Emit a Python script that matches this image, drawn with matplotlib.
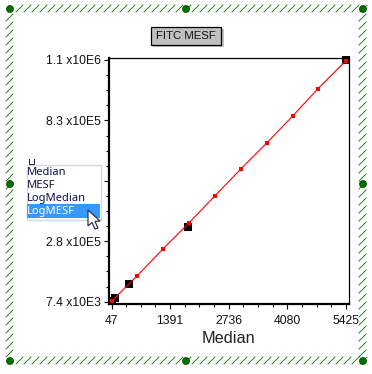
#!/usr/bin/env python
"""FITC MESF calibration plot: LogMESF vs Median, with its selection frame and menu."""

import matplotlib
matplotlib.use('Agg')
import matplotlib.pyplot as plt
from matplotlib.patches import Rectangle, Polygon, Circle

plt.rcParams['font.family'] = ['Liberation Sans', 'DejaVu Sans']

W, H = 372, 374

# values
fit_median = [47, 631, 1226, 1822, 2417, 3013, 3608, 4204, 4776, 5425]
fit_mesf = [10000, 123600, 245700, 363300, 485400, 607500, 725000, 847100, 969200, 1097200]
bead_median = [47, 127, 448, 1799, 5425]
bead_mesf = [12000, 24100, 87400, 345200, 1100000]

x_ticks = [47, 1391, 2736, 4080, 5425]
x_ticklabels = ['47', '1391', '2736', '4080', '5425']
y_ticks = [7400, 280500, 553700, 826900, 1100000]
y_ticklabels = ['7.4 x10E3', '2.8 x10E5', '', '8.3 x10E5', '1.1 x10E6']
menu_items = ['Median', 'MESF', 'LogMedian', 'LogMESF']

GREEN = '#007000'

fig = plt.figure(figsize=(W / 100, H / 100), dpi=100)

# full-figure layer in pixel coordinates for the window furniture
bg = fig.add_axes([0, 0, 1, 1], zorder=0)
bg.set_xlim(0, W)
bg.set_ylim(H, 0)
bg.axis('off')

# selection frame, made of short slashes
for x in range(14, 360, 8):
    bg.plot([x + 2, x + 9], [12, 5], color=GREEN, lw=0.6)
    bg.plot([x + 2, x + 9], [364, 357], color=GREEN, lw=0.6)
for y in range(14, 358, 8):
    bg.plot([6, 13], [y + 7, y], color=GREEN, lw=0.6)
    bg.plot([359, 366], [y + 7, y], color=GREEN, lw=0.6)
for hx in (10, 186, 363):
    for hy in (9, 184, 361):
        if hx == 186 and hy == 184:
            continue
        bg.add_patch(Circle((hx, hy), 3.5, fc=GREEN, ec='#004000', lw=0.5, zorder=3))

# title button
bg.add_patch(Rectangle((153, 29), 71, 18, fc='#a8a8a8', ec='none', alpha=0.7))
bg.add_patch(Rectangle((151, 26.5), 70, 18, fc='#c0c0c0', ec='black', lw=0.9))
bg.text(186, 35.5, 'FITC MESF', ha='center', va='center', fontsize=8.2, color='#111111')

# plot
ax = fig.add_axes([108.5 / W, 1 - 303.5 / H, (349.3 - 108.5) / W, (303.5 - 57.5) / H], zorder=1)
x_per_px = (5425 - 47) / (346 - 111.5)
y_per_px = (1100000 - 7400) / (301.7 - 60)
ax.set_xlim(47 - 3 * x_per_px, 5425 + 3.3 * x_per_px)
ax.set_ylim(7400 - 1.8 * y_per_px, 1100000 + 2.5 * y_per_px)

ax.plot(bead_median, bead_mesf, ls='none', marker='s', ms=6, color='black', mew=0,
        clip_on=False, zorder=2)
ax.plot(fit_median, fit_mesf, color='#ff0000', lw=0.8, marker='s', ms=3.4, mew=0,
        clip_on=False, zorder=3)

ax.set_xticks(x_ticks)
ax.set_xticklabels(x_ticklabels)
ax.set_yticks(y_ticks)
ax.set_yticklabels(y_ticklabels)
x_step = (x_ticks[1] - x_ticks[0]) / 4
y_step = (y_ticks[1] - y_ticks[0]) / 4
ax.set_xticks([47 + i * x_step for i in range(1, 16) if i % 4], minor=True)
ax.set_yticks([7400 + i * y_step for i in range(1, 16) if i % 4], minor=True)
ax.tick_params(which='major', length=3.6, width=0.8, labelsize=8.7, colors='#111111')
ax.tick_params(axis='y', which='major', pad=2)
ax.tick_params(axis='x', which='major', pad=4.5)
ax.tick_params(which='minor', length=2, width=0.8)
ax.set_xlabel('Median', fontsize=11.7, labelpad=3, color='#222222')

ax.spines['left'].set_linewidth(1.6)
ax.spines['bottom'].set_linewidth(1.6)
ax.spines['top'].set_linewidth(0.9)
ax.spines['right'].set_linewidth(0.9)

# dropdown menu and pointer on top of everything
fg = fig.add_axes([0, 0, 1, 1], zorder=2)
fg.set_xlim(0, W)
fg.set_ylim(H, 0)
fg.axis('off')
fg.patch.set_alpha(0)

fg.plot([28.5, 28.5, 33.5, 33.5], [159, 164, 164, 159], color='#222222', lw=0.7)
fg.add_patch(Rectangle((26.5, 164.5), 74, 55, fc='white', ec='#d8d8e0', lw=1))
fg.add_patch(Rectangle((27, 204), 73, 13.5, fc='#3399ff', ec='none'))
for i, item in enumerate(menu_items):
    fg.text(27, 172.5 + i * 13, item, ha='left', va='center', fontsize=8, family='Noto Sans',
            color='white' if item == 'LogMESF' else '#10104a')
fg.add_patch(Polygon([(88, 210), (88, 226), (92, 222.5), (95, 229), (98, 228),
                      (95, 221.5), (100, 221)], fc='white', ec='#303048', lw=0.9))

fig.savefig('out.png', dpi=100)
